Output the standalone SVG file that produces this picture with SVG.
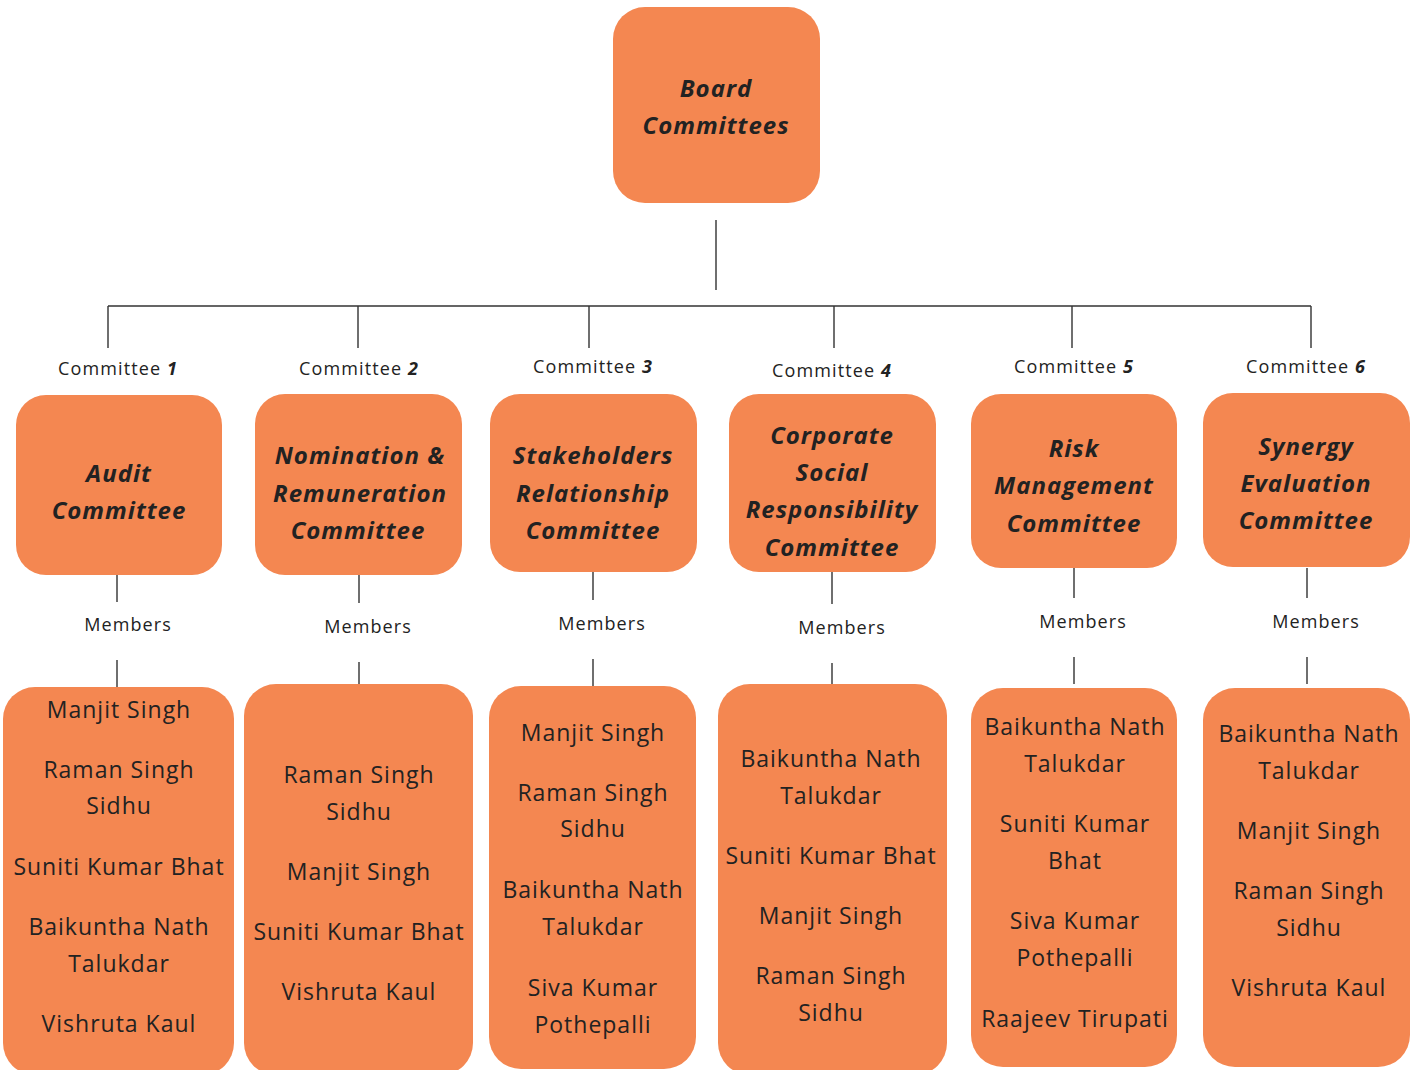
<svg xmlns="http://www.w3.org/2000/svg" width="1411" height="1070" viewBox="0 0 1411 1070">
<style>
.box{fill:#F48751;}
.t{font-family:"Open Sans","Liberation Sans",sans-serif;fill:#222;text-anchor:middle;}
.h{font-size:24px;font-weight:700;font-style:italic;letter-spacing:1px;}
.m{font-size:23px;letter-spacing:1px;}
.c{font-size:18px;letter-spacing:1.1px;}
.ln{stroke:#333;stroke-width:1.4;fill:none;}
</style>
<rect width="1411" height="1070" fill="#fff"/>
<g id="connectors">
<path class="ln" d="M716 220V290M108 306H1311M108 306V348M358 306V348M589 306V348M834 306V348M1072 306V348M1311 306V348"/>
<path class="ln" d="M117 575V602M117 660V687M359 575V603M359 662V684M593 572V600M593 659V686M832 572V604M832 663V684M1074 568V598M1074 657V684M1307 568V598M1307 657V684"/>
</g>
<g id="board">
<rect class="box" x="613" y="7" width="207" height="196" rx="32"/>
<text class="t h" x="716" y="97">Board</text>
<text class="t h" x="716" y="134">Committees</text>
</g>
<g id="label1"><text class="t c" x="118" y="375">Committee <tspan font-weight="700" font-style="italic">1</tspan></text></g>
<g id="label2"><text class="t c" x="359" y="375">Committee <tspan font-weight="700" font-style="italic">2</tspan></text></g>
<g id="label3"><text class="t c" x="593" y="373">Committee <tspan font-weight="700" font-style="italic">3</tspan></text></g>
<g id="label4"><text class="t c" x="832" y="377">Committee <tspan font-weight="700" font-style="italic">4</tspan></text></g>
<g id="label5"><text class="t c" x="1074" y="373">Committee <tspan font-weight="700" font-style="italic">5</tspan></text></g>
<g id="label6"><text class="t c" x="1306" y="373">Committee <tspan font-weight="700" font-style="italic">6</tspan></text></g>
<g id="c1">
<rect class="box" x="16" y="395" width="206" height="180" rx="30"/>
<text class="t h" x="119" y="482">Audit</text>
<text class="t h" x="119" y="519">Committee</text>
</g>
<g id="c2">
<rect class="box" x="255" y="394" width="207" height="181" rx="30"/>
<text class="t h" x="360" y="464">Nomination &amp;</text>
<text class="t h" x="360" y="502">Remuneration</text>
<text class="t h" x="358" y="539">Committee</text>
</g>
<g id="c3">
<rect class="box" x="490" y="394" width="207" height="178" rx="30"/>
<text class="t h" x="593" y="464">Stakeholders</text>
<text class="t h" x="593" y="502">Relationship</text>
<text class="t h" x="593" y="539">Committee</text>
</g>
<g id="c4">
<rect class="box" x="729" y="394" width="207" height="178" rx="30"/>
<text class="t h" x="832" y="444">Corporate</text>
<text class="t h" x="832" y="481">Social</text>
<text class="t h" x="832" y="518">Responsibility</text>
<text class="t h" x="832" y="556">Committee</text>
</g>
<g id="c5">
<rect class="box" x="971" y="394" width="206" height="174" rx="30"/>
<text class="t h" x="1074" y="457">Risk</text>
<text class="t h" x="1074" y="494">Management</text>
<text class="t h" x="1074" y="532">Committee</text>
</g>
<g id="c6">
<rect class="box" x="1203" y="393" width="207" height="174" rx="30"/>
<text class="t h" x="1306" y="455">Synergy</text>
<text class="t h" x="1306" y="492">Evaluation</text>
<text class="t h" x="1306" y="529">Committee</text>
</g>
<g id="mem-labels">
<text class="t c" x="128" y="631">Members</text>
<text class="t c" x="368" y="633">Members</text>
<text class="t c" x="602" y="630">Members</text>
<text class="t c" x="842" y="634">Members</text>
<text class="t c" x="1083" y="628">Members</text>
<text class="t c" x="1316" y="628">Members</text>
</g>
<g id="m1">
<rect class="box" x="3" y="687" width="231" height="388" rx="32"/>
<text class="t m" x="119" y="718">Manjit Singh</text>
<text class="t m" x="119" y="778">Raman Singh</text>
<text class="t m" x="119" y="814">Sidhu</text>
<text class="t m" x="119" y="875">Suniti Kumar Bhat</text>
<text class="t m" x="119" y="935">Baikuntha Nath</text>
<text class="t m" x="119" y="972">Talukdar</text>
<text class="t m" x="119" y="1032">Vishruta Kaul</text>
</g>
<g id="m2">
<rect class="box" x="244" y="684" width="229" height="391" rx="32"/>
<text class="t m" x="359" y="783">Raman Singh</text>
<text class="t m" x="359" y="820">Sidhu</text>
<text class="t m" x="359" y="880">Manjit Singh</text>
<text class="t m" x="359" y="940">Suniti Kumar Bhat</text>
<text class="t m" x="359" y="1000">Vishruta Kaul</text>
</g>
<g id="m3">
<rect class="box" x="489" y="686" width="207" height="383" rx="32"/>
<text class="t m" x="593" y="741">Manjit Singh</text>
<text class="t m" x="593" y="801">Raman Singh</text>
<text class="t m" x="593" y="837">Sidhu</text>
<text class="t m" x="593" y="898">Baikuntha Nath</text>
<text class="t m" x="593" y="935">Talukdar</text>
<text class="t m" x="593" y="996">Siva Kumar</text>
<text class="t m" x="593" y="1033">Pothepalli</text>
</g>
<g id="m4">
<rect class="box" x="718" y="684" width="229" height="391" rx="32"/>
<text class="t m" x="831" y="767">Baikuntha Nath</text>
<text class="t m" x="831" y="804">Talukdar</text>
<text class="t m" x="831" y="864">Suniti Kumar Bhat</text>
<text class="t m" x="831" y="924">Manjit Singh</text>
<text class="t m" x="831" y="984">Raman Singh</text>
<text class="t m" x="831" y="1021">Sidhu</text>
</g>
<g id="m5">
<rect class="box" x="971" y="688" width="206" height="379" rx="32"/>
<text class="t m" x="1075" y="735">Baikuntha Nath</text>
<text class="t m" x="1075" y="772">Talukdar</text>
<text class="t m" x="1075" y="832">Suniti Kumar</text>
<text class="t m" x="1075" y="869">Bhat</text>
<text class="t m" x="1075" y="929">Siva Kumar</text>
<text class="t m" x="1075" y="966">Pothepalli</text>
<text class="t m" x="1075" y="1027">Raajeev Tirupati</text>
</g>
<g id="m6">
<rect class="box" x="1203" y="688" width="207" height="379" rx="32"/>
<text class="t m" x="1309" y="742">Baikuntha Nath</text>
<text class="t m" x="1309" y="779">Talukdar</text>
<text class="t m" x="1309" y="839">Manjit Singh</text>
<text class="t m" x="1309" y="899">Raman Singh</text>
<text class="t m" x="1309" y="936">Sidhu</text>
<text class="t m" x="1309" y="996">Vishruta Kaul</text>
</g>
</svg>
